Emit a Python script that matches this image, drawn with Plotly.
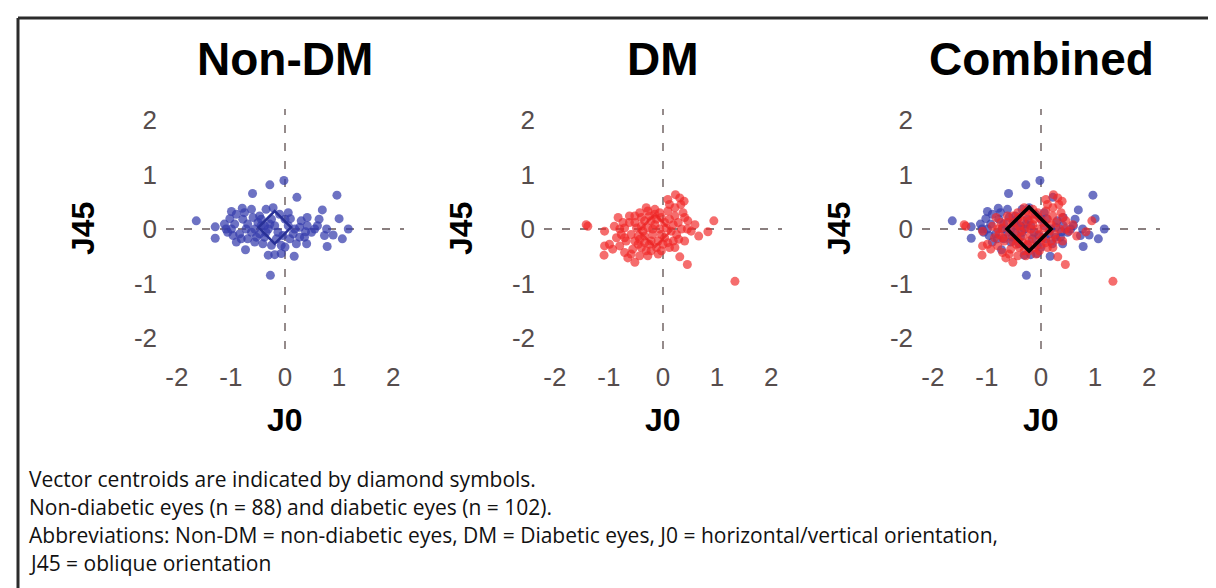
import plotly.graph_objects as go

# ---------------- data ----------------
panel_titles = ["Non-DM", "DM", "Combined"]
x_ticks = [-2, -1, 0, 1, 2]
y_ticks = [-2, -1, 0, 1, 2]

nondm_j0 = [-1.64, -1.29, -1.29, -0.28, -0.02, -0.60, 0.22, 0.96, -0.79, -0.62,
            -0.99, -1.02, -0.99, -1.06, -0.90, -0.73, -0.69, -0.56, -0.44, -0.35,
            -0.22, -0.31, -0.19, -0.07, 0.17, -0.27, 0.06, 0.10, 0.18, 0.09,
            0.27, 0.41, 0.69, 0.63, 0.60, 0.41, 0.77, 0.73, 0.89, 1.00,
            1.17, 1.06, 0.78, 0.40, 0.36, -0.07, 0.00, -0.38, -0.47, -0.31,
            -0.19, -0.13, -0.84, -0.93, -0.78, -0.69, -1.12, -0.38, -0.50, -0.25,
            -0.10, 0.30, 0.49, 0.38, 0.21, -0.56, -0.81, -1.09,
            -0.47, -0.59, -0.41, -0.25, -0.16, -0.04, 0.06, 0.15, -0.96, -0.72,
            -0.62, -0.53, -0.35, -0.44, -0.28, 0.55, -0.90, -0.75, 0.00, 0.27]
nondm_j45 = [0.15, 0.04, -0.17, 0.81, 0.89, 0.65, 0.58, 0.62, 0.38, 0.36,
             0.32, 0.19, 0.00, -0.06, -0.24, -0.38, -0.18, 0.00, 0.18, 0.36,
             0.39, -0.48, -0.47, -0.45, -0.50, -0.85, 0.30, 0.19, 0.00, -0.18,
             -0.15, 0.21, 0.35, 0.18, 0.06, 0.06, 0.00, -0.12, -0.11, 0.19,
             0.00, -0.18, -0.32, -0.27, -0.15, -0.30, -0.33, -0.15, -0.09, 0.00,
             0.06, -0.06, -0.09, 0.09, 0.18, 0.09, 0.09, 0.06, 0.12, 0.18,
             0.27, 0.15, -0.06, -0.05, -0.27, -0.24, -0.18, 0.00,
             0.24, 0.21, -0.27, -0.30, -0.18, -0.12, 0.06, -0.09, -0.12, 0.00,
             -0.06, -0.15, -0.06, 0.06, 0.09, 0.00, 0.27, 0.30, 0.18, 0.03]

dm_j0 = [-1.42, -1.39, -1.08, -1.08, -0.93, -1.09, -0.71, -0.65, -0.52, -0.83,
         -0.77, -0.71, -0.62, -0.52, -0.43, -0.28, -0.15, -0.03, 0.09, 0.23,
         0.33, 0.37, 0.46, 0.45, 0.29, 0.12, -0.03, -0.22, -0.40, -0.52,
         -0.59, 0.31, 0.45, 0.66, 0.83, 0.94, 1.33,
         0.19, 0.22, 0.15, 0.03, -0.09, -0.19, -0.28, -0.37, -0.34, -0.15,
         -0.06, -0.22, -0.34, -0.46, -0.68, -0.80, -0.56, -0.43, 0.09, 0.31,
         0.39, 0.12, 0.52, 0.34, 0.25, 0.09, -0.12, -0.31, -0.40, -0.25,
         -0.15, -0.06, 0.03, -0.62, -0.71, -0.86, -0.49, -0.40, -0.34, -0.25,
         0.00, 0.19, 0.40, 0.59, -0.52, -0.74, -0.90, -0.99, -0.80, -0.03,
         0.06, -0.12, -0.22, -0.31, 0.22, 0.12, 0.28, -0.46, -0.59, -0.09,
         0.22, 0.40, -0.43, -0.19, -0.28]
dm_j45 = [0.08, 0.05, -0.04, -0.31, -0.37, -0.48, -0.43, -0.53, -0.61, 0.21,
          -0.10, 0.02, 0.24, 0.12, 0.30, 0.33, 0.27, 0.21, 0.54, 0.63,
          0.45, 0.30, 0.15, 0.00, -0.19, -0.34, -0.40, -0.40, -0.34, -0.22,
          -0.10, -0.51, -0.65, -0.13, -0.05, 0.15, -0.96,
          0.08, 0.24, -0.04, -0.16, -0.22, -0.10, 0.02, -0.04, 0.15, 0.08,
          0.00, -0.22, -0.25, -0.13, -0.22, 0.00, -0.37, -0.49, 0.33, 0.57,
          0.51, 0.45, -0.04, 0.00, -0.10, -0.25, -0.34, -0.40, 0.21, 0.24,
          0.36, 0.30, 0.12, 0.12, -0.16, -0.16, 0.02, 0.05, -0.13, -0.28,
          -0.28, -0.22, -0.22, 0.08, 0.24, 0.12, 0.05, -0.28, -0.31, -0.10,
          0.02, 0.18, 0.15, 0.39, -0.34, 0.18, 0.12, -0.28, -0.46, -0.46,
          0.39, 0.21, -0.19, 0.00, -0.49]

# vector centroids (non-DM, DM, combined)
centroid_j0 = [-0.19, -0.15, -0.22]
centroid_j45 = [0.03, -0.03, 0.00]

caption_lines = [
    "Vector centroids are indicated by diamond symbols.",
    "Non-diabetic eyes (n = 88) and diabetic eyes (n = 102).",
    "Abbreviations: Non-DM = non-diabetic eyes, DM = Diabetic eyes, J0 = horizontal/vertical orientation,",
    "J45 = oblique orientation",
]

# ---------------- styling ----------------
W, H = 1216, 588
BLUE = "rgba(52,60,172,0.72)"
RED = "rgba(240,40,40,0.68)"
TICK_COLOR = "#564d4d"
DASH_COLOR = "#8a7f7f"
FONT = "Liberation Sans, Arial, sans-serif"

zero_px = [277, 655, 1033]
half_w = 119
y_top_px, y_bot_px = 101, 341


def px_x(p):
    return p / W


def px_y(p):
    return 1 - p / H


fig = go.Figure()

panels = [
    [(nondm_j0, nondm_j45, BLUE)],
    [(dm_j0, dm_j45, RED)],
    [(nondm_j0, nondm_j45, BLUE), (dm_j0, dm_j45, RED)],
]
diamonds = [
    dict(color="rgb(40,48,150)", size=25, width=2.5),
    dict(color="rgba(235,35,35,0.75)", size=25, width=2.5),
    dict(color="black", size=34, width=3.5),
]

for i in range(3):
    ax = "" if i == 0 else str(i + 1)
    xa, ya = "x" + ax, "y" + ax
    for (xs, ys, col) in panels[i]:
        fig.add_trace(go.Scatter(
            x=xs, y=ys, mode="markers", xaxis=xa, yaxis=ya,
            marker=dict(size=9, color=col, line=dict(width=0)),
            showlegend=False, hoverinfo="skip"))
    d = diamonds[i]
    fig.add_trace(go.Scatter(
        x=[centroid_j0[i]], y=[centroid_j45[i]], mode="markers", xaxis=xa, yaxis=ya,
        marker=dict(symbol="diamond-open", size=d["size"], color=d["color"],
                    line=dict(width=d["width"], color=d["color"])),
        showlegend=False, hoverinfo="skip"))

    z = zero_px[i]
    fig.layout["xaxis" + ax] = dict(
        domain=[px_x(z - half_w), px_x(z + half_w)], range=[-2.2, 2.2],
        tickvals=x_ticks, ticktext=[str(v) for v in x_ticks],
        showgrid=False, zeroline=False, showline=False, ticks="",
        ticklabelstandoff=10, automargin=False, anchor=ya,
        tickfont=dict(family=FONT, size=26, color=TICK_COLOR),
        fixedrange=True)
    fig.layout["yaxis" + ax] = dict(
        domain=[px_y(y_bot_px), px_y(y_top_px)], range=[-2.2, 2.2],
        tickvals=y_ticks, ticktext=[str(v) for v in y_ticks],
        showgrid=False, zeroline=False, showline=False, ticks="",
        ticklabelstandoff=8, automargin=False, anchor=xa,
        tickfont=dict(family=FONT, size=26, color=TICK_COLOR),
        fixedrange=True)

    # dashed reference lines through the origin
    fig.add_shape(type="line", xref=xa, yref=ya + " domain", x0=0, x1=0, y0=0, y1=1,
                  line=dict(color=DASH_COLOR, width=1.8, dash="8px,10px"), layer="below")
    fig.add_shape(type="line", xref=xa + " domain", yref=ya, x0=0, x1=1, y0=0, y1=0,
                  line=dict(color=DASH_COLOR, width=1.8, dash="8px,10px"), layer="below")

    # panel title
    fig.add_annotation(text="<b>%s</b>" % panel_titles[i], x=px_x(z), y=px_y(51),
                       xref="paper", yref="paper", showarrow=False,
                       xanchor="center", yanchor="middle",
                       font=dict(family=FONT, size=46, color="black"))
    # axis titles
    fig.add_annotation(text="<b>J0</b>", x=px_x(z), y=px_y(412),
                       xref="paper", yref="paper", showarrow=False,
                       xanchor="center", yanchor="middle",
                       font=dict(family=FONT, size=32, color="black"))
    fig.add_annotation(text="<b>J45</b>", x=px_x(z - 202), y=px_y(221),
                       xref="paper", yref="paper", showarrow=False, textangle=-90,
                       xanchor="center", yanchor="middle",
                       font=dict(family=FONT, size=32, color="black"))

# caption
cap_y = [471, 499, 527, 555]
for line, yp in zip(caption_lines, cap_y):
    fig.add_annotation(text=line, x=px_x(19), y=px_y(yp), xref="paper", yref="paper",
                       showarrow=False, xanchor="left", yanchor="middle",
                       font=dict(family="Open Sans, sans-serif", size=21, color="#111111"))

# frame (top and left edges)
fig.add_shape(type="line", xref="paper", yref="paper", x0=px_x(10), x1=1.0,
              y0=px_y(10), y1=px_y(10), line=dict(color="#2b2b2b", width=3))
fig.add_shape(type="line", xref="paper", yref="paper", x0=px_x(10), x1=px_x(10),
              y0=px_y(10), y1=0.0, line=dict(color="#2b2b2b", width=3))

fig.update_layout(width=W, height=H, margin=dict(l=0, r=0, t=0, b=0),
                  paper_bgcolor="white", plot_bgcolor="white")

fig.write_html("out.html")
